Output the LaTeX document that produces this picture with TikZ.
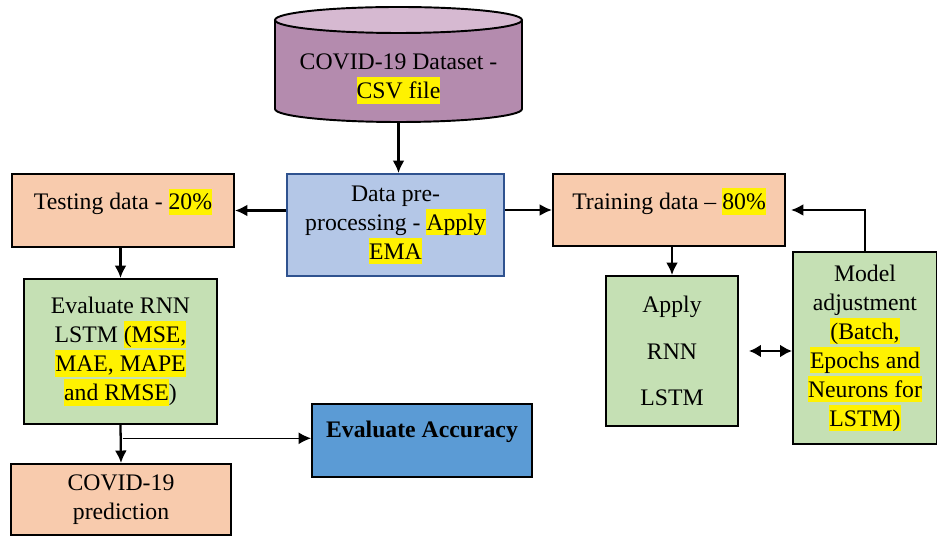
\documentclass[tikz,border=0pt]{standalone}
\usepackage{fontspec}
\setmainfont{Liberation Serif}
\usepackage{tikz}
\usetikzlibrary{calc,arrows.meta}
\definecolor{peach}{HTML}{F8CBAD}
\definecolor{sage}{HTML}{C5E0B4}
\definecolor{paleblue}{HTML}{B4C7E7}
\definecolor{navyline}{HTML}{2F528F}
\definecolor{midblue}{HTML}{5B9BD5}
\definecolor{plum}{HTML}{B48BAE}
\definecolor{plumtop}{HTML}{D6B9D1}
\newcommand{\hlt}[1]{{\setlength{\fboxsep}{0pt}\colorbox{yellow}{\rule[-0.22em]{0pt}{1.12em}#1}}}

\begin{document}
\begin{tikzpicture}[font=\rmfamily\fontsize{13.5}{16.5}\selectfont,
	box/.style={draw=black, line width=1.1pt, align=center, inner sep=2pt},
	flow/.style={line width=1.3pt, -{Latex[length=0.25cm,width=0.24cm]}}]
	\useasboundingbox (0,0) rectangle (18.74,10.74);
	% % dataset drum on top
	\draw[line width=1.1pt, fill=plum] (5.5,10.34) -- (5.5,8.56) arc (180:360:2.47cm and 0.26cm) -- (10.44,10.34);
	\draw[line width=1.1pt, fill=plumtop] (7.97,10.34) ellipse (2.47cm and 0.26cm);
	\node[align=center] (data) at (7.97,9.16) {COVID-19 Dataset -\\ \hlt{CSV file}};
	\coordinate (databot) at (7.97,8.3);
	% % middle row
	\node[box, draw=navyline, fill=paleblue, minimum width=4.34cm, minimum height=2.04cm] (prep) at (7.91,6.24)
	      {Data pre-\\processing - \hlt{Apply}\\\hlt{EMA}};
	\node[box, fill=peach, minimum width=4.44cm, minimum height=1.46cm, text depth=0.45cm] (test) at (2.46,6.53)
	      {Testing data - \hlt{20\%}};
	\node[box, fill=peach, minimum width=4.64cm, minimum height=1.44cm, text depth=0.45cm] (train) at (13.38,6.54)
	      {Training data -- \hlt{80\%}};
	% % left branch
	\node[box, fill=sage, minimum width=3.86cm, minimum height=2.9cm] (eval) at (2.41,3.71)
	      {Evaluate RNN\\LSTM \hlt{(MSE,}\\\hlt{MAE, MAPE}\\\hlt{and RMSE})};
	\node[box, fill=peach, minimum width=4.4cm, minimum height=1.42cm] (pred) at (2.42,0.75)
	      {COVID-19\\prediction};
	\node[box, fill=midblue, minimum width=4.4cm, minimum height=1.46cm, text depth=0.45cm] (acc) at (8.44,1.93)
	      {\textbf{Evaluate Accuracy}};
	% % right branch
	\node[box, fill=sage, minimum width=2.64cm, minimum height=3cm] (rnn) at (13.44,3.72)
	      {Apply\\[10pt]RNN\\[10pt]LSTM};
	\node[box, fill=sage, minimum width=2.88cm, minimum height=3.84cm] (adj) at (17.3,3.78)
	      {Model\\adjustment\\\hlt{(Batch,}\\\hlt{Epochs and}\\\hlt{Neurons for}\\\hlt{LSTM)}};
	% % connectors
	\draw[flow] (databot) -- (databot |- prep.north);
	\draw[flow] (prep.west |- test.east) -- (test.east);
	\draw[flow] (prep.east |- train.west) -- (train.west);
	\draw[flow] (eval.north |- test.south) -- (eval.north);
	\draw[flow] (eval.south) -- (pred.north);
	\coordinate (split) at ($(eval.south)!0.35!(pred.north)$);
	\draw[line width=0.7pt, -{Latex[length=0.25cm,width=0.24cm]}] ([xshift=0.04cm]split) -- (acc.west |- split);
	\draw[flow] (rnn.north |- train.south) -- (rnn.north);
	\coordinate (rnnout) at ([xshift=0.2cm]rnn.east);
	\draw[line width=1.6pt, {Latex[length=0.24cm,width=0.26cm]}-{Latex[length=0.24cm,width=0.26cm]}] (rnnout) -- (adj.west |- rnnout);
	\draw[flow] (adj.north) |- ([xshift=0.1cm]train.east);
\end{tikzpicture}
\end{document}
